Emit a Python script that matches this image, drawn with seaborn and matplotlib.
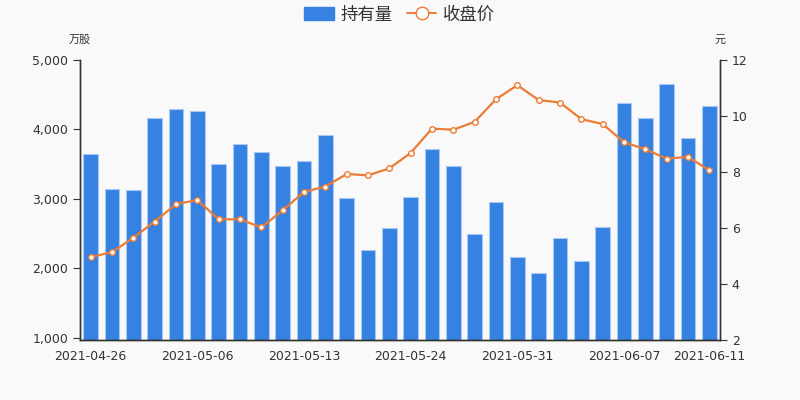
import numpy as np
import pandas as pd
import matplotlib
matplotlib.use('Agg')
import matplotlib.pyplot as plt
import seaborn as sns
from matplotlib.patches import Patch
from matplotlib.lines import Line2D

dates = ['2021-04-26', '2021-04-27', '2021-04-28', '2021-04-29', '2021-04-30',
         '2021-05-06', '2021-05-07', '2021-05-10', '2021-05-11', '2021-05-12',
         '2021-05-13', '2021-05-14', '2021-05-17', '2021-05-18', '2021-05-19',
         '2021-05-24', '2021-05-25', '2021-05-26', '2021-05-27', '2021-05-28',
         '2021-05-31', '2021-06-01', '2021-06-02', '2021-06-03', '2021-06-04',
         '2021-06-07', '2021-06-08', '2021-06-09', '2021-06-10', '2021-06-11']
holdings = [3640, 3140, 3130, 4160, 4290, 4260, 3510, 3790, 3670, 3480,
            3550, 3920, 3020, 2260, 2580, 3030, 3720, 3470, 2500, 2950,
            2160, 1930, 2440, 2110, 2600, 4380, 4170, 4650, 3880, 4340]
close_price = [4.96, 5.14, 5.65, 6.23, 6.85, 7.00, 6.31, 6.31, 6.02, 6.63,
               7.29, 7.48, 7.93, 7.88, 8.13, 8.68, 9.55, 9.51, 9.79, 10.60,
               11.10, 10.57, 10.48, 9.89, 9.71, 9.07, 8.81, 8.48, 8.54, 8.06]
shown_labels = ['2021-04-26', '2021-05-06', '2021-05-13', '2021-05-24',
                '2021-05-31', '2021-06-07', '2021-06-11']

df = pd.DataFrame({'date': dates, 'holdings': holdings, 'close': close_price})
df['pos'] = np.arange(len(df))

bar_color = '#3582e2'
line_color = '#ee7b34'
text_color = '#333333'

sns.set_style('white')
plt.rcParams['font.family'] = ['DejaVu Sans', 'Noto Sans CJK SC']
plt.rcParams['axes.facecolor'] = '#f9f9f9'
plt.rcParams['figure.facecolor'] = '#f9f9f9'

fig = plt.figure(figsize=(8, 4), dpi=100)
ax = fig.add_axes([0.1, 0.15, 0.8, 0.7])

sns.barplot(data=df, x='date', y='holdings', order=dates, color=bar_color,
            width=0.7, edgecolor='#a9c9f1', linewidth=0.8, saturation=1, ax=ax)
ax.set_ylim(970, 5000)
ax.set_yticks([1000, 2000, 3000, 4000, 5000])
ax.set_yticklabels(['1,000', '2,000', '3,000', '4,000', '5,000'])
ax.set_xlim(-0.5, len(dates) - 0.5)

ax2 = ax.twinx()
sns.lineplot(data=df, x='pos', y='close', color=line_color, linewidth=1.6,
             marker='o', markersize=4, markerfacecolor='white',
             markeredgecolor=line_color, markeredgewidth=1, ax=ax2)
ax2.set_ylim(2, 12)
ax2.set_yticks([2, 4, 6, 8, 10, 12])
ax2.set_xlim(-0.5, len(dates) - 0.5)

# x labels at selected categories, tick marks on category boundaries
label_pos = [dates.index(d) for d in shown_labels]
ax.set_xticks(label_pos)
ax.set_xticklabels(shown_labels)
ax.set_xticks([p - 0.5 for p in label_pos] + [len(dates) - 0.5], minor=True)
ax.tick_params(axis='x', which='major', length=0, pad=7, labelsize=9, labelcolor=text_color)
ax.tick_params(axis='x', which='minor', length=5, color=text_color, width=1)
ax.tick_params(axis='y', length=5, color=text_color, labelsize=9, labelcolor=text_color, left=True)
ax2.tick_params(axis='y', length=5, color=text_color, labelsize=9, labelcolor=text_color, right=True)
ax.set_xlabel('')
ax.set_ylabel('')
ax2.set_xlabel('')
ax2.set_ylabel('')

for a in (ax, ax2):
    a.spines['top'].set_visible(False)
    for s in ('left', 'right', 'bottom'):
        a.spines[s].set_color(text_color)
        a.spines[s].set_linewidth(1)
ax.grid(False)
ax2.grid(False)

fig.text(0.1, 0.9, '万股', ha='center', va='center', fontsize=8, color=text_color)
fig.text(0.9, 0.9, '元', ha='center', va='center', fontsize=8, color=text_color)

handles = [Patch(facecolor=bar_color, edgecolor=bar_color),
           Line2D([0], [0], color=line_color, linewidth=1.4, marker='o',
                  markersize=9, markerfacecolor='white', markeredgecolor=line_color)]
fig.legend(handles, ['持有量', '收盘价'], loc='upper center', bbox_to_anchor=(0.5, 1.025),
           ncol=2, frameon=False, fontsize=12.5, handlelength=1.7, handleheight=0.8,
           columnspacing=0.8, handletextpad=0.4, labelcolor=text_color)

fig.savefig('out.png', dpi=100)
